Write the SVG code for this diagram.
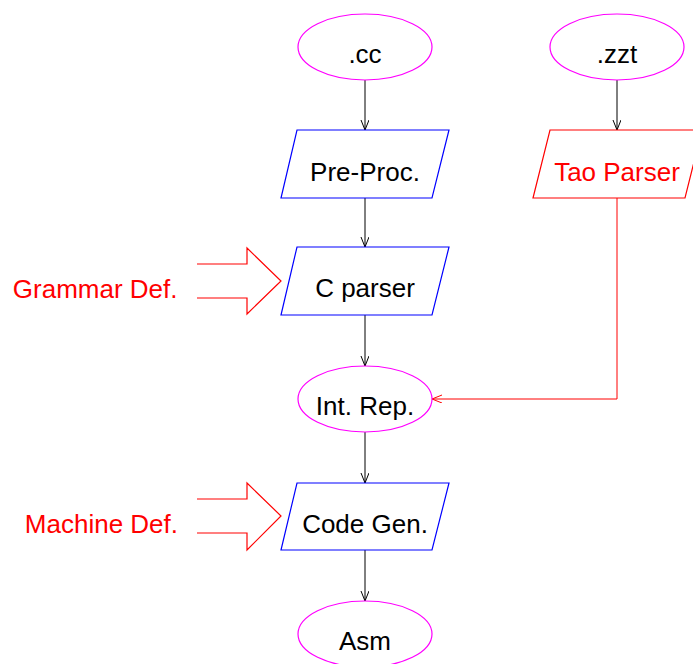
<svg xmlns="http://www.w3.org/2000/svg" width="693" height="664" viewBox="0 0 693 664">
<defs>
<style>
text{font-family:"Liberation Sans",Arial,sans-serif;font-size:26px;text-anchor:middle}
.term{fill:#fff;stroke:#f0f;stroke-width:1.2}
.proc{fill:#fff;stroke:#00f;stroke-width:1.2}
.red{fill:none;stroke:#f00;stroke-width:1.2}
.conn{fill:none;stroke:#000;stroke-width:1}
.rconn{fill:none;stroke:#f00;stroke-width:1}
.rt{fill:#f00}
.lbl{fill:#f00;text-anchor:end}
</style>
<marker id="ah" markerWidth="12" markerHeight="10" refX="10" refY="4" orient="auto" markerUnits="userSpaceOnUse">
<path d="M0,0 L10,4 L0,8" fill="none" stroke="#000" stroke-width="1"/>
</marker>
<marker id="ahr" markerWidth="12" markerHeight="10" refX="10" refY="4" orient="auto" markerUnits="userSpaceOnUse">
<path d="M0,0 L10,4 L0,8" fill="none" stroke="#f00" stroke-width="1"/>
</marker>
</defs>
<g id="connectors">
<line class="conn" x1="365" y1="80" x2="365" y2="130" marker-end="url(#ah)"/>
<line class="conn" x1="365" y1="198" x2="365" y2="247" marker-end="url(#ah)"/>
<line class="conn" x1="365" y1="315" x2="365" y2="366" marker-end="url(#ah)"/>
<line class="conn" x1="365" y1="432" x2="365" y2="483" marker-end="url(#ah)"/>
<line class="conn" x1="365" y1="550" x2="365" y2="601" marker-end="url(#ah)"/>
<line class="conn" x1="617" y1="80" x2="617" y2="130" marker-end="url(#ah)"/>
<polyline class="rconn" points="617,198 617,399 432,399" marker-end="url(#ahr)"/>
</g>
<g id="cc"><ellipse class="term" cx="365" cy="47" rx="67" ry="33"/><text x="365" y="63">.cc</text></g>
<g id="zzt"><ellipse class="term" cx="617" cy="47" rx="67" ry="33"/><text x="617" y="63">.zzt</text></g>
<g id="preproc"><polygon class="proc" points="297,130 449,130 432,198 281,198"/><text x="365" y="181">Pre-Proc.</text></g>
<g id="taoparser"><polygon class="red" points="550,130 702,130 685,198 533,198"/><text class="rt" x="617" y="181">Tao Parser</text></g>
<g id="cparser"><polygon class="proc" points="297,247 449,247 432,315 281,315"/><text x="365" y="297">C parser</text></g>
<g id="intrep"><ellipse class="term" cx="365" cy="399" rx="67" ry="33"/><text x="365" y="415">Int. Rep.</text></g>
<g id="codegen"><polygon class="proc" points="297,483 449,483 432,550 281,550"/><text x="365" y="533">Code Gen.</text></g>
<g id="asm"><ellipse class="term" cx="365" cy="634" rx="67" ry="33"/><text x="365" y="650">Asm</text></g>
<g id="grammardef"><path class="red" d="M197,264 H247 V248 L281,281 L247,314 V298 H197"/><text class="lbl" x="177.5" y="298">Grammar Def.</text></g>
<g id="machinedef"><path class="red" d="M197,499 H247 V483 L281,516 L247,550 V533 H197"/><text class="lbl" x="178" y="533">Machine Def.</text></g>
</svg>
